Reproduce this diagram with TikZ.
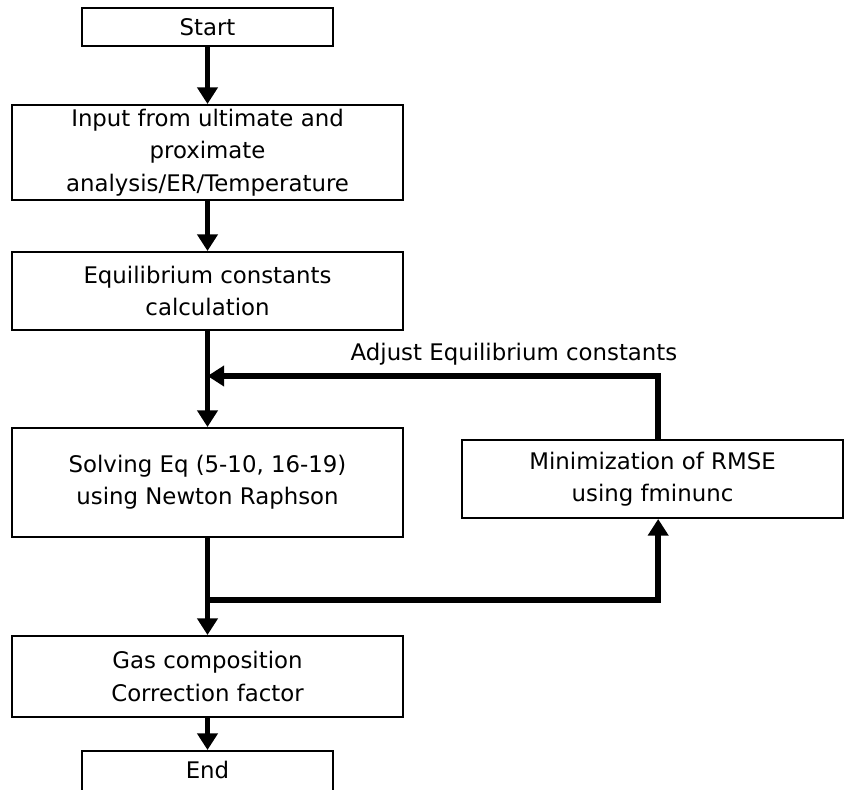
\documentclass[tikz,border=0pt]{standalone}
\usepackage{fontspec}
\setmainfont{DejaVu Sans}
\usepackage{tikz}
\usetikzlibrary{arrows.meta, positioning, calc}

\begin{document}
\begin{tikzpicture}[
    box/.style={draw, line width=1.7pt, align=center, inner sep=0pt, font=\fontsize{19.5}{27.5}\selectfont},
    flow/.style={-{Triangle[length=0.5cm, width=0.6cm]}, line width=4.8pt},
    link/.style={line width=4.8pt}
]
\useasboundingbox (0,0) rectangle (25.32,-23.67);
\clip (0,0) rectangle (25.32,-23.67);

\node[box, minimum width=7.53cm, minimum height=1.14cm] (start) at (6.225,-0.81) {Start};
\node[box, minimum width=11.73cm, minimum height=2.85cm] (input) at (6.225,-4.575) {Input from ultimate and\\proximate\\analysis/ER/Temperature};
\node[box, minimum width=11.73cm, minimum height=2.34cm] (equil) at (6.225,-8.73) {Equilibrium constants\\calculation};
\node[box, minimum width=11.73cm, minimum height=3.27cm] (solve) at (6.225,-14.475) {Solving Eq (5-10, 16-19)\\using Newton Raphson};
\node[box, minimum width=11.43cm, minimum height=2.34cm] (minim) at (19.575,-14.37) {Minimization of RMSE\\using fminunc};
\node[box, minimum width=11.73cm, minimum height=2.43cm] (gas) at (6.225,-20.295) {Gas composition\\Correction factor};
% bottom edge of the last box falls off the page
\node[box, minimum width=7.53cm, text height=0.82cm, text depth=0.8cm, anchor=north] (end) at (6.225,-22.5) {End};

\coordinate (join) at (6.225,-11.28);
\coordinate (split) at (6.225,-18.0);

\draw[flow] ($(minim.north)+(0.17,0)$) |- (join)
    node[pos=0.66, above=0.12cm, font=\fontsize{19.5}{27.5}\selectfont] {Adjust Equilibrium constants};
\draw[flow] (start) -- (input);
\draw[flow] (input) -- (equil);
\draw[flow] (equil) -- (solve);
\draw[link] (solve) -- (split);
\draw[flow] (split) -| ($(minim.south)+(0.17,0)$);
\draw[flow] (split) -- (gas);
\draw[flow] (gas) -- (end);
\end{tikzpicture}
\end{document}
